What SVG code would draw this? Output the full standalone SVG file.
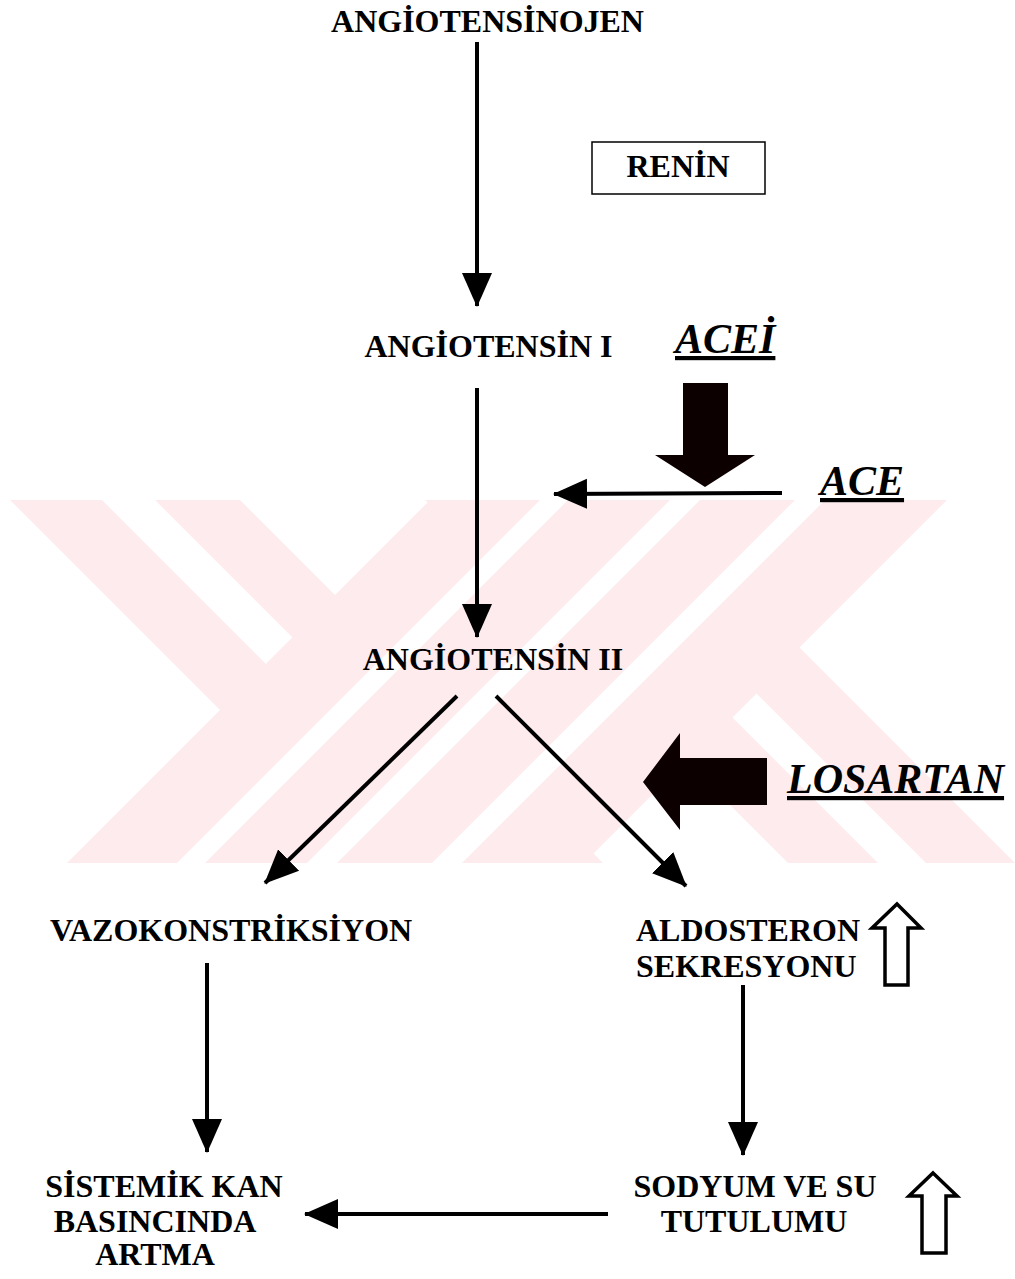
<svg xmlns="http://www.w3.org/2000/svg" width="1015" height="1279" viewBox="0 0 1015 1279">
<style>
.lbl{font-family:"Liberation Serif","Times New Roman",serif;font-weight:bold;font-size:32px;fill:#000}
.mid{text-anchor:middle}
.drug{font-family:"Liberation Serif","Times New Roman",serif;font-weight:bold;font-style:italic;font-size:42px;fill:#000;text-decoration:underline}
.wm{fill:#fdebee}
.gap{fill:#ffffff}
.conn{stroke:#000;stroke-width:4;fill:none}
.hollow{fill:#fff;stroke:#000;stroke-width:3.5;stroke-linejoin:miter}
.block{fill:#0d0000}
</style>
<defs>
<clipPath id="wmclip"><rect x="0" y="500" width="1015" height="363"/></clipPath>
<marker id="ah" markerUnits="userSpaceOnUse" markerWidth="34" markerHeight="32" refX="33" refY="15" orient="auto" viewBox="0 0 34 30">
<path d="M0,0 L34,15 L0,30 z" fill="#000"/>
</marker>
</defs>
<rect width="1015" height="1279" fill="#fff"/>
<g id="watermark" clip-path="url(#wmclip)">
<polygon class="wm" points="10,500 240,500 603,863 373,863"/>
<polygon class="wm" points="425,500 652,500 1015,863 788,863"/>
<polygon class="gap" points="102,500 155,500 292.5,637.5 266,664"/>
<polygon class="gap" points="756.5,693.5 732.5,717.5 878,863 926,863"/>
<polygon class="wm" points="430,500 947,500 584,863 67,863"/>
<polygon class="gap" points="540,500 568,500 205,863 177,863"/>
<polygon class="gap" points="670,500 700,500 337,863 307,863"/>
<polygon class="gap" points="795,500 825,500 462,863 432,863"/>
</g>
<g id="connectors">
<line class="conn" x1="477" y1="42" x2="477" y2="306" marker-end="url(#ah)"/>
<line class="conn" x1="477" y1="388" x2="477" y2="637" marker-end="url(#ah)"/>
<line class="conn" x1="782" y1="493" x2="554" y2="494" marker-end="url(#ah)"/>
<line class="conn" x1="457" y1="696" x2="265" y2="883" marker-end="url(#ah)"/>
<line class="conn" x1="496" y1="696" x2="686" y2="886" marker-end="url(#ah)"/>
<line class="conn" x1="207" y1="963" x2="207" y2="1152" marker-end="url(#ah)"/>
<line class="conn" x1="743" y1="985" x2="743" y2="1155" marker-end="url(#ah)"/>
<line class="conn" x1="608" y1="1214" x2="305" y2="1214" marker-end="url(#ah)"/>
</g>
<g id="angiotensinojen"><text class="lbl mid" x="487.5" y="32">ANGİOTENSİNOJEN</text></g>
<g id="renin">
<rect x="592" y="142" width="173" height="52" fill="none" stroke="#000" stroke-width="1.5"/>
<text class="lbl mid" x="678" y="177">RENİN</text>
</g>
<g id="angiotensin1"><text class="lbl mid" x="488.5" y="357">ANGİOTENSİN I</text></g>
<g id="acei">
<text class="drug" x="675" y="353">ACEİ</text>
<polygon class="block" points="683,383 728,383 728,455 755,455 705,487 655,455 683,455"/>
</g>
<g id="ace"><text class="drug" x="820" y="495">ACE</text></g>
<g id="angiotensin2"><text class="lbl mid" x="493" y="670">ANGİOTENSİN II</text></g>
<g id="losartan">
<polygon class="block" points="767,758 680,758 680,733 643,782 680,830 680,805 767,805"/>
<text class="drug" x="787" y="793">LOSARTAN</text>
</g>
<g id="vazokonstriksiyon"><text class="lbl" x="50" y="941">VAZOKONSTRİKSİYON</text></g>
<g id="aldosteron">
<text class="lbl" x="636" y="941">ALDOSTERON</text>
<text class="lbl" x="636" y="977">SEKRESYONU</text>
<polygon class="hollow" points="897,904 921,928 908,928 908,985 885,985 885,928 872,928"/>
</g>
<g id="sistemik">
<text class="lbl mid" x="164" y="1197">SİSTEMİK KAN</text>
<text class="lbl mid" x="155" y="1232">BASINCINDA</text>
<text class="lbl mid" x="155" y="1265">ARTMA</text>
</g>
<g id="sodyum">
<text class="lbl mid" x="755" y="1197">SODYUM VE SU</text>
<text class="lbl mid" x="754" y="1232">TUTULUMU</text>
<polygon class="hollow" points="933,1173 957,1196 946,1196 946,1253 922,1253 922,1196 909,1196"/>
</g>
</svg>
